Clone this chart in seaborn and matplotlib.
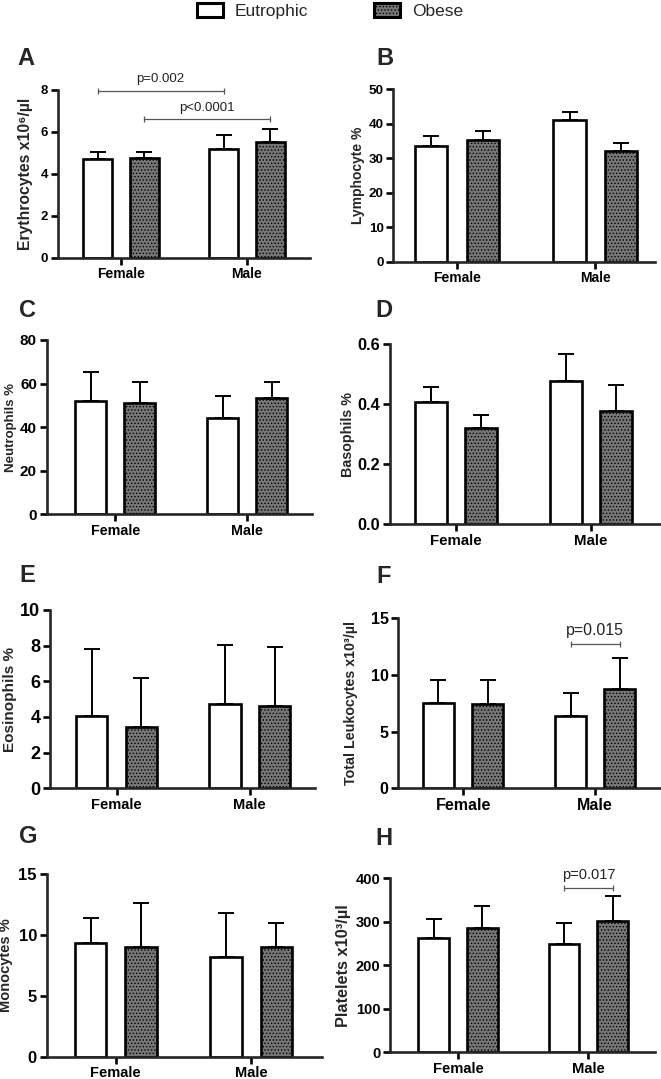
import numpy as np
import pandas as pd
import matplotlib
matplotlib.use("Agg")
import matplotlib.pyplot as plt
import seaborn as sns
from matplotlib.patches import Patch

# data: mean and SD, order (Female, Male)
sexes = ["Female", "Male"]
groups = ["Eutrophic", "Obese"]

ery_eut = [4.70, 5.17]
ery_eut_sd = [0.35, 0.66]
ery_obe = [4.76, 5.52]
ery_obe_sd = [0.29, 0.62]

lym_eut = [33.5, 41.1]
lym_eut_sd = [3.0, 2.4]
lym_obe = [35.3, 32.2]
lym_obe_sd = [2.5, 2.2]

neu_eut = [52.1, 44.0]
neu_eut_sd = [13.3, 10.3]
neu_obe = [50.9, 53.2]
neu_obe_sd = [9.9, 7.6]

bas_eut = [0.408, 0.478]
bas_eut_sd = [0.048, 0.091]
bas_obe = [0.322, 0.378]
bas_obe_sd = [0.041, 0.085]

eos_eut = [4.05, 4.73]
eos_eut_sd = [3.75, 3.31]
eos_obe = [3.44, 4.62]
eos_obe_sd = [2.73, 3.29]

leu_eut = [7.55, 6.38]
leu_eut_sd = [2.01, 2.06]
leu_obe = [7.41, 8.74]
leu_obe_sd = [2.15, 2.76]

mon_eut = [9.32, 8.17]
mon_eut_sd = [2.11, 3.62]
mon_obe = [9.00, 9.00]
mon_obe_sd = [3.66, 1.97]

pla_eut = [263, 250]
pla_eut_sd = [43, 48]
pla_obe = [286, 302]
pla_obe_sd = [51, 58]

panels = [
    ("A", "Erythrocytes x10\u2076/\u00b5l", ery_eut, ery_eut_sd, ery_obe, ery_obe_sd, [0, 2, 4, 6, 8], "{:.0f}"),
    ("B", "Lymphocyte %", lym_eut, lym_eut_sd, lym_obe, lym_obe_sd, [0, 10, 20, 30, 40, 50], "{:.0f}"),
    ("C", "Neutrophils %", neu_eut, neu_eut_sd, neu_obe, neu_obe_sd, [0, 20, 40, 60, 80], "{:.0f}"),
    ("D", "Basophils %", bas_eut, bas_eut_sd, bas_obe, bas_obe_sd, [0, 0.2, 0.4, 0.6], "{:.1f}"),
    ("E", "Eosinophils %", eos_eut, eos_eut_sd, eos_obe, eos_obe_sd, [0, 2, 4, 6, 8, 10], "{:.0f}"),
    ("F", "Total Leukocytes x10\u00b3/\u00b5l", leu_eut, leu_eut_sd, leu_obe, leu_obe_sd, [0, 5, 10, 15], "{:.0f}"),
    ("G", "Monocytes %", mon_eut, mon_eut_sd, mon_obe, mon_obe_sd, [0, 5, 10, 15], "{:.0f}"),
    ("H", "Platelets x10\u00b3/\u00b5l", pla_eut, pla_eut_sd, pla_obe, pla_obe_sd, [0, 100, 200, 300, 400], "{:.0f}"),
]

# significance brackets: panel, (sex, group) start, (sex, group) end, height, text
brackets = [
    ("A", (0, 0), (1, 0), 7.95, "p=0.002"),
    ("A", (0, 1), (1, 1), 6.6, "p<0.0001"),
    ("F", (1, 0), (1, 1), 12.73, "p=0.015"),
    ("H", (1, 0), (1, 1), 378, "p=0.017"),
]

# layout in pixels: left, top, right, bottom of axes, xlim, ylabel offset,
# font sizes (xtick, ytick, ylabel, p-text), letter position
layout = {
    "A": (58, 89.7, 310, 257.7, (-0.5, 1.5), -25, (10, 9.5, 11.3, 9.5), (17, 65)),
    "B": (393.3, 89.3, 655, 261.7, (-0.46, 1.43), -28, (10, 9.7, 10, 9.5), (376, 65)),
    "C": (46.7, 340, 311.7, 514.3, (-0.52, 1.49), -30, (10.3, 11, 9.5, 9.5), (19, 317)),
    "D": (390, 344.3, 660, 524, (-0.49, 1.51), -35, (10.8, 11.7, 10.3, 9.5), (375, 317)),
    "E": (50, 610, 315, 788.3, (-0.5, 1.49), -33, (10.5, 13, 11, 9.5), (19, 582)),
    "F": (398.3, 618.3, 660, 788.3, (-0.49, 1.49), -40, (11.5, 11.5, 10.3, 11.4), (376, 583)),
    "G": (46.7, 874.3, 321.7, 1056.7, (-0.51, 1.52), -34, (10.5, 12, 10.5, 9.5), (19, 843)),
    "H": (390, 878.3, 655, 1052.3, (-0.52, 1.51), -39, (10.6, 10.5, 11.8, 10.5), (375, 845)),
}

W, H = 661, 1079
sns.set_style("ticks")
plt.rcParams["font.family"] = ["Liberation Sans", "DejaVu Sans"]
plt.rcParams["hatch.linewidth"] = 0.6

obese_color = "#767676"
fig = plt.figure(figsize=(W / 100, H / 100), dpi=100)
axes = {}

for letter, ylabel, eut, eut_sd, obe, obe_sd, yticks, fmt in panels:
    l, t, r, b, xlim, lab_off, fs, lpos = layout[letter]
    ax = fig.add_axes([l / W, 1 - b / H, (r - l) / W, (b - t) / H])
    axes[letter] = ax

    df = pd.DataFrame({
        "sex": sexes * 2,
        "group": [groups[0]] * 2 + [groups[1]] * 2,
        "value": eut + obe,
    })
    sns.barplot(data=df, x="sex", y="value", hue="group", order=sexes,
                hue_order=groups, palette=["white", obese_color], saturation=1,
                edgecolor="black", linewidth=1.9, width=0.745, gap=0.37,
                errorbar=None, legend=False, ax=ax)

    for cont, sd in zip(ax.containers, [eut_sd, obe_sd]):
        xs = [p.get_x() + p.get_width() / 2 for p in cont]
        hs = [p.get_height() for p in cont]
        ax.errorbar(xs, hs, yerr=[np.zeros(len(sd)), sd], fmt="none",
                    ecolor="black", elinewidth=1.4, capsize=5.5, capthick=1.4,
                    zorder=0.5)
    for p in ax.containers[1]:
        p.set_hatch(".....")

    ax.set_xlim(*xlim)
    ax.set_ylim(0, yticks[-1])
    ax.set_yticks(yticks)
    ax.set_yticklabels([fmt.format(v) for v in yticks], fontsize=fs[1],
                       fontweight="bold")
    ax.set_xticks([0, 1])
    ax.set_xticklabels(sexes, fontsize=fs[0], fontweight="bold")
    ax.set_xlabel("")
    ax.set_ylabel(ylabel, fontsize=fs[2], fontweight="bold")
    ax.yaxis.set_label_coords(lab_off / (r - l), 0.5)
    sns.despine(ax=ax)
    for s in ["left", "bottom"]:
        ax.spines[s].set_linewidth(1.9)
    ax.tick_params(direction="out", length=5, width=1.9, pad=2, colors="black")

    fig.text(lpos[0] / W, 1 - lpos[1] / H, letter, fontsize=17,
             fontweight="bold", va="baseline", ha="left")

for letter, (s1, g1), (s2, g2), y, txt in brackets:
    ax = axes[letter]
    p1 = ax.containers[g1][s1]
    p2 = ax.containers[g2][s2]
    x1 = p1.get_x() + p1.get_width() / 2
    x2 = p2.get_x() + p2.get_width() / 2
    ax.plot([x1, x2], [y, y], color="#555555", lw=0.9, clip_on=False)
    ax.plot([x1, x2], [y, y], ls="none", marker="|", ms=5, mew=0.9,
            color="#555555", clip_on=False)
    ax.annotate(txt, xy=((x1 + x2) / 2, y), xytext=(0, 4),
                textcoords="offset points", ha="center", va="bottom",
                fontsize=layout[letter][6][3], fontweight="normal",
                color="#222222")

handles = [
    Patch(facecolor="white", edgecolor="black", linewidth=2.2),
    Patch(facecolor=obese_color, edgecolor="black", linewidth=2.2, hatch="....."),
]
fig.legend(handles, groups, loc="center", bbox_to_anchor=(330 / W, 1 - 11 / H),
           ncol=2, frameon=False, prop={"size": 12.5, "weight": "normal"},
           handlelength=1.5, handleheight=0.9, handletextpad=0.7,
           columnspacing=3.8)

fig.savefig("out.png", dpi=100)
